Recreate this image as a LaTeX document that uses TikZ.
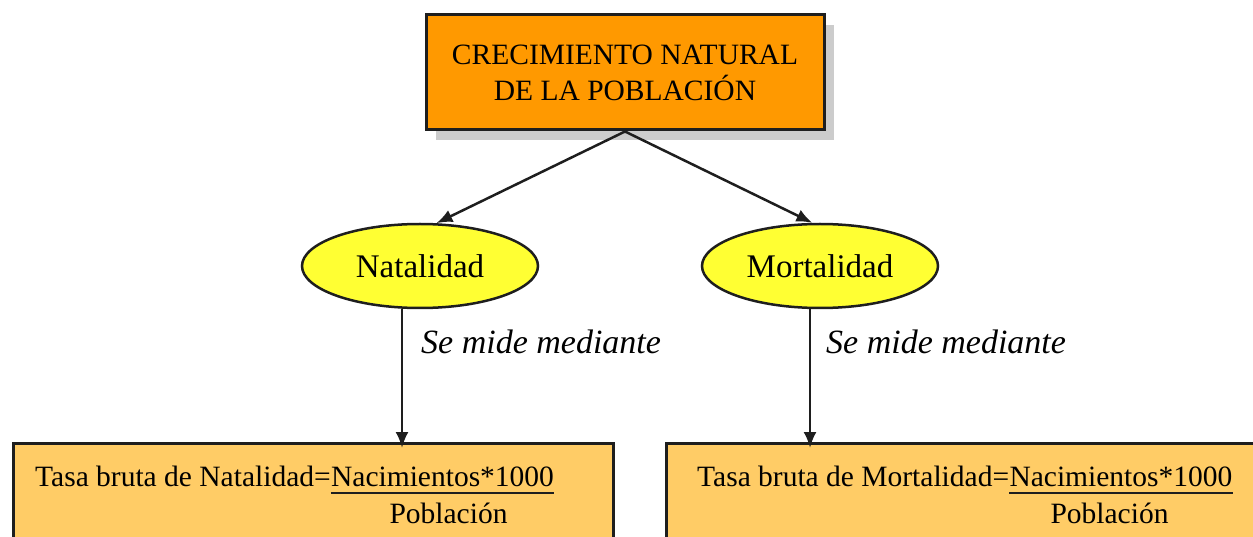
\documentclass[tikz,border=0pt]{standalone}
\usepackage{fontspec}
\setmainfont{Liberation Serif}
\usetikzlibrary{arrows.meta,shapes.geometric,calc}
\definecolor{orangeA}{HTML}{FF9900}
\definecolor{yellowA}{HTML}{FFFF33}
\definecolor{boxC}{HTML}{FFCC66}
\definecolor{lineC}{HTML}{1E1E1E}
\definecolor{shadowC}{HTML}{CCCCCC}
\begin{document}
\begin{tikzpicture}[x=1pt,y=-1pt,
  frame/.style={draw=lineC, line width=3pt, inner sep=0pt},
  oval/.style={ellipse, draw=lineC, line width=2.5pt, fill=yellowA, inner sep=0pt,
    minimum width=236pt, minimum height=84pt, font=\fontsize{33}{40}\selectfont},
  arr/.style={draw=lineC, line width=2.5pt, -{Latex[length=16pt,width=13pt]}},
  txt/.style={inner sep=0pt, font=\fontsize{29.5}{36}\selectfont},
  lbl/.style={inner sep=0pt, font=\fontsize{34}{40}\selectfont\itshape},
  uline/.style={draw=lineC, line width=2.5pt}]
\useasboundingbox (0,0) rectangle (1253,537);
\clip (0,0) rectangle (1253,537);
% shadow and title
\fill[shadowC] (436,25) rectangle (834,140);
\node[frame, fill=orangeA, minimum width=398pt, minimum height=115pt, align=center,
  font=\fontsize{29.5}{36}\selectfont] (top) at (625,72.5) {CRECIMIENTO NATURAL\\DE LA POBLACIÓN};
% ellipses
\node[oval] (nat) at (420,266) {Natalidad};
\node[oval] (mort) at (820,266) {Mortalidad};
% bottom boxes
\node[frame, fill=boxC, anchor=north west, minimum width=600pt, minimum height=200pt] (box1) at (12,442) {};
\node[frame, fill=boxC, anchor=north west, minimum width=700pt, minimum height=200pt] (box2) at (665,442) {};
% arrows
\draw[arr] (top.south) -- (nat.69);
\draw[arr] (top.south) -- (mort.100);
\draw[arr] ($(nat.south)+(-18,0)$) -- ($(nat.south |- box1.north)+(-18,6)$);
\draw[arr] ($(mort.south)+(-10,0)$) -- ($(mort.south |- box2.north)+(-10,6)$);
% labels
\node[lbl, anchor=base west] (l1) at (421,353) {Se mide mediante};
\node[lbl, anchor=base west] (l2) at (826,353) {Se mide mediante};
% formulas
\node[txt, anchor=base west] (t1) at (35,486) {Tasa bruta de Natalidad=};
\node[txt, anchor=base west] (n1) at (t1.base east) {Nacimientos*1000};
\draw[uline] ([yshift=-7pt]n1.base west) -- ([yshift=-7pt]n1.base east);
\node[txt, anchor=base] (p1) at (448.5,523) {Población};
\node[txt, anchor=base west] (t2) at (697,486) {Tasa bruta de Mortalidad=};
\node[txt, anchor=base west] (n2) at (t2.base east) {Nacimientos*1000};
\draw[uline] ([yshift=-7pt]n2.base west) -- ([yshift=-7pt]n2.base east);
\node[txt, anchor=base] (p2) at (1109.5,523) {Población};
\end{tikzpicture}
\end{document}
